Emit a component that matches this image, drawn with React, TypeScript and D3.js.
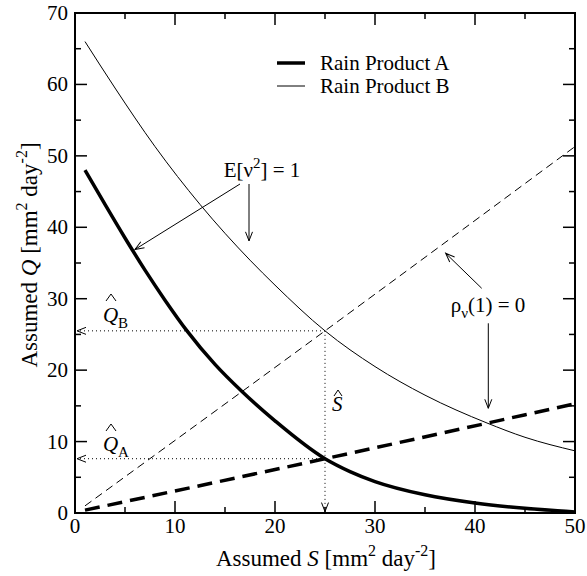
import React from 'react';
import * as d3 from 'd3';

// Rain Product A (thick solid) and B (thin solid): E[v^2] = 1 curves
const S_A = [1, 3, 5, 7, 9, 11.2, 14, 16.7, 20, 25, 27.5, 30, 35, 40, 45, 50];
const Q_A = [48, 43.2, 38.5, 34.0, 29.8, 25.5, 20.8, 17.0, 12.9, 7.6, 5.8, 4.4, 2.55, 1.4, 0.65, 0.15];

const S_B = [1, 4, 8, 12.5, 17.5, 20, 25, 30, 35, 41.2, 45, 50];
const Q_B = [66, 59.5, 51.3, 43.2, 35.4, 31.9, 25.5, 20.5, 16.5, 12.6, 10.6, 8.7];

// rho_v(1) = 0 lines (dashed)
const S_DA = [1, 25, 50];
const Q_DA = [0.4, 7.6, 15.3];
const S_DB = [1, 16.7, 25, 50];
const Q_DB = [1.0, 17.0, 25.5, 51.3];

// estimates
const S_HAT = 25;
const QA_HAT = 7.6;
const QB_HAT = 25.5;

const X_TICKS = [0, 10, 20, 30, 40, 50];
const X_MINOR = [5, 15, 25, 35, 45];
const Y_TICKS = [0, 10, 20, 30, 40, 50, 60, 70];
const Y_MINOR = [5, 15, 25, 35, 45, 55, 65];

const W = 587;
const H = 576;
const FONT = "'Times New Roman', Times, 'Liberation Serif', 'DejaVu Serif', 'Noto Serif', serif";

const App = () => {
  const x = d3.scaleLinear().domain([0, 50]).range([75, 575]);
  const y = d3.scaleLinear().domain([0, 70]).range([513, 13]);

  const line = d3
    .line<[number, number]>()
    .x(d => x(d[0]))
    .y(d => y(d[1]))
    .curve(d3.curveMonotoneX);

  const zip = (a: number[], b: number[]) => a.map((v, i) => [v, b[i]] as [number, number]);

  const [x0, x1] = x.range();
  const [y0, y1] = y.range();

  const arrow = (sx: number, sq: number, ex: number, eq: number, key: string, dotted = false) => (
    <line
      key={key}
      x1={x(sx)}
      y1={y(sq)}
      x2={x(ex)}
      y2={y(eq)}
      stroke="black"
      strokeWidth={1}
      strokeDasharray={dotted ? '1,3' : undefined}
      markerEnd="url(#head)"
    />
  );

  // circumflex drawn as a small path, apex at (cx, top)
  const hat = (cx: number, top: number, w: number, h: number) => (
    <path d={`M${cx - w / 2},${top + h} L${cx},${top} L${cx + w / 2},${top + h}`} fill="none" stroke="black" strokeWidth={1} />
  );

  return (
    <svg width={W} height={H} style={{ position: 'absolute', left: 0, top: 0, background: 'white' }} fontFamily={FONT}>
      <defs>
        <marker id="head" markerUnits="userSpaceOnUse" markerWidth={20} markerHeight={20}
          viewBox="-10 -10 20 20" refX={0} refY={0} orient="auto">
          <path d="M-9,-3.5 L0,0 L-9,3.5" fill="none" stroke="black" strokeWidth={1} />
        </marker>
      </defs>

      {/* dotted guides for the estimates */}
      {arrow(S_HAT, QB_HAT, 0.2, QB_HAT, 'gb', true)}
      {arrow(S_HAT, QA_HAT, 0.2, QA_HAT, 'ga', true)}
      {arrow(S_HAT, QB_HAT, S_HAT, 0.2, 'gs', true)}

      {/* curves */}
      <path d={line(zip(S_DB, Q_DB)) || ''} fill="none" stroke="black" strokeWidth={1} strokeDasharray="8,5" />
      <path d={line(zip(S_B, Q_B)) || ''} fill="none" stroke="black" strokeWidth={1} />
      <path d={line(zip(S_DA, Q_DA)) || ''} fill="none" stroke="black" strokeWidth={3.5} strokeDasharray="15,8" />
      <path d={line(zip(S_A, Q_A)) || ''} fill="none" stroke="black" strokeWidth={3.5} />

      {/* frame and ticks */}
      <rect x={x0} y={y1} width={x1 - x0} height={y0 - y1} fill="none" stroke="black" strokeWidth={2} />
      {X_TICKS.map(t => (
        <g key={'xt' + t}>
          <line x1={x(t)} x2={x(t)} y1={y0} y2={y0 - 12} stroke="black" strokeWidth={1.5} />
          <line x1={x(t)} x2={x(t)} y1={y1} y2={y1 + 12} stroke="black" strokeWidth={1.5} />
          <text x={x(t)} y={533} textAnchor="middle" fontSize={21}>{t}</text>
        </g>
      ))}
      {X_MINOR.map(t => (
        <g key={'xm' + t}>
          <line x1={x(t)} x2={x(t)} y1={y0} y2={y0 - 6} stroke="black" strokeWidth={1.5} />
          <line x1={x(t)} x2={x(t)} y1={y1} y2={y1 + 6} stroke="black" strokeWidth={1.5} />
        </g>
      ))}
      {Y_TICKS.map(t => (
        <g key={'yt' + t}>
          <line x1={x0} x2={x0 + 12} y1={y(t)} y2={y(t)} stroke="black" strokeWidth={1.5} />
          <line x1={x1} x2={x1 - 12} y1={y(t)} y2={y(t)} stroke="black" strokeWidth={1.5} />
          <text x={68} y={y(t) + 7} textAnchor="end" fontSize={21}>{t}</text>
        </g>
      ))}
      {Y_MINOR.map(t => (
        <g key={'ym' + t}>
          <line x1={x0} x2={x0 + 6} y1={y(t)} y2={y(t)} stroke="black" strokeWidth={1.5} />
          <line x1={x1} x2={x1 - 6} y1={y(t)} y2={y(t)} stroke="black" strokeWidth={1.5} />
        </g>
      ))}

      {/* axis titles */}
      <text x={326} y={566} textAnchor="middle" fontSize={23}>
        Assumed <tspan fontStyle="italic">S</tspan> [mm<tspan dy={-10} fontSize={16}>2</tspan><tspan dy={10}> day</tspan><tspan dy={-10} fontSize={16}>-2</tspan><tspan dy={10}>]</tspan>
      </text>
      <text transform="translate(37,255) rotate(-90)" textAnchor="middle" fontSize={23}>
        Assumed <tspan fontStyle="italic">Q</tspan> [mm<tspan dy={-10} fontSize={16}>2</tspan><tspan dy={10}> day</tspan><tspan dy={-10} fontSize={16}>-2</tspan><tspan dy={10}>]</tspan>
      </text>

      {/* legend */}
      <line x1={277} x2={305} y1={63} y2={63} stroke="black" strokeWidth={3.5} />
      <line x1={277} x2={305} y1={86} y2={86} stroke="black" strokeWidth={1} />
      <text x={320} y={70} fontSize={21}>Rain Product A</text>
      <text x={320} y={93} fontSize={21}>Rain Product B</text>

      {/* E[v^2] = 1 annotation */}
      <text x={x(18.7)} y={y(47)} textAnchor="middle" fontSize={21}>
        E[ν<tspan dy={-9} fontSize={15}>2</tspan><tspan dy={9}>] = 1</tspan>
      </text>
      {arrow(16.5, 46.06, 6.0, 36.9, 'e1')}
      {arrow(17.4, 46.06, 17.4, 38.1, 'e2')}

      {/* rho_v(1) = 0 annotation */}
      <text x={x(41.3)} y={y(28.1)} textAnchor="middle" fontSize={21}>
        ρ<tspan dy={6} fontSize={15}>ν</tspan><tspan dy={-6}>(1) = 0</tspan>
      </text>
      {arrow(40.67, 31.46, 37.07, 36.36, 'r1')}
      {arrow(41.33, 26.56, 41.33, 14.66, 'r2')}

      {/* estimate labels */}
      <text x={103} y={322} fontSize={21} fontStyle="italic">Q</text>
      <text x={118} y={328} fontSize={15}>B</text>
      {hat(111, 294, 10, 7)}
      <text x={103} y={451} fontSize={21} fontStyle="italic">Q</text>
      <text x={118} y={457} fontSize={15}>A</text>
      {hat(111, 424, 10, 7)}
      <text x={332} y={411} fontSize={21} fontStyle="italic">S</text>
      {hat(338, 390, 8, 6)}
    </svg>
  );
};

export default App;
